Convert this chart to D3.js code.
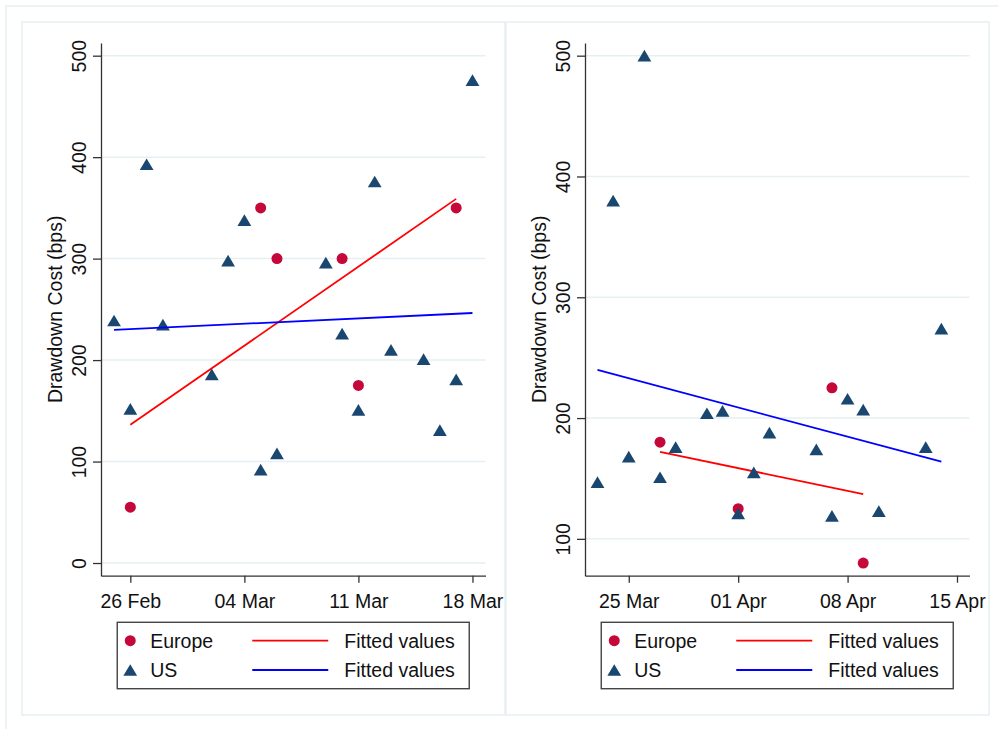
<!DOCTYPE html>
<html>
<head>
<meta charset="utf-8">
<script src="https://cdn.jsdelivr.net/npm/d3@7"></script>
<style>
	body { margin: 0; background: #fff; }
	svg { display: block; font-family: "Liberation Sans", Arial, sans-serif; }
</style>
</head>
<body>
<div id="chart"></div>
<script>
// Left panel: late Feb - mid Mar 2020
var p1EuropeDates = ["2020-02-26", "2020-03-05", "2020-03-06", "2020-03-10", "2020-03-11", "2020-03-17"];
var p1EuropeCost = [55, 350, 300, 300, 175, 350];
var p1UsDates = ["2020-02-25", "2020-02-26", "2020-02-27", "2020-02-28", "2020-03-02", "2020-03-03",
	"2020-03-04", "2020-03-05", "2020-03-06", "2020-03-09", "2020-03-10", "2020-03-11",
	"2020-03-12", "2020-03-13", "2020-03-15", "2020-03-16", "2020-03-17", "2020-03-18"];
var p1UsCost = [239, 152, 393, 235, 186, 298, 338, 92, 108, 296, 226, 151, 376, 210, 201, 131, 181, 476];
var p1XTicks = ["2020-02-26", "2020-03-04", "2020-03-11", "2020-03-18"];
var p1YTicks = [0, 100, 200, 300, 400, 500];

// Right panel: late Mar - mid Apr 2020
var p2EuropeDates = ["2020-03-27", "2020-04-01", "2020-04-07", "2020-04-09"];
var p2EuropeCost = [180, 125, 225, 80];
var p2UsDates = ["2020-03-23", "2020-03-24", "2020-03-25", "2020-03-26", "2020-03-27", "2020-03-28",
	"2020-03-30", "2020-03-31", "2020-04-01", "2020-04-02", "2020-04-03", "2020-04-06",
	"2020-04-07", "2020-04-08", "2020-04-09", "2020-04-10", "2020-04-13", "2020-04-14"];
var p2UsCost = [147, 380, 168, 500, 151, 176, 204, 206, 121, 155, 188, 174, 119, 216, 207, 123, 176, 274];
var p2XTicks = ["2020-03-25", "2020-04-01", "2020-04-08", "2020-04-15"];
var p2YTicks = [100, 200, 300, 400, 500];

var legendLabels = ["Europe", "US", "Fitted values", "Fitted values"];
var yTitle = "Drawdown Cost (bps)";

var EUROPE_COLOR = "#C5073A";
var US_COLOR = "#1A476F";
var EUROPE_FIT = "#FF0000";
var US_FIT = "#0000FF";
var GRID_COLOR = "#E6EFF1";
var DAY = 864e5;
var FONT = 19.5;

var parseDate = d3.utcParse("%Y-%m-%d");

var width = 998;
var height = 729;

var svg = d3.select("#chart").append("svg")
	.attr("width", width)
	.attr("height", height);

// outer graph region (runs off the picture to the right and bottom)
svg.append("rect")
	.attr("x", 6).attr("y", 6)
	.attr("width", 1100).attr("height", 1100)
	.attr("fill", "none")
	.attr("stroke", GRID_COLOR)
	.attr("stroke-width", 1.5);

// triangle marker, centred on its box
function triangle(s) {
	return "M0," + (-s * 0.45) + "L" + (s * 0.53) + "," + (s * 0.45) + "L" + (-s * 0.53) + "," + (s * 0.45) + "Z";
}

// simple least squares fit
function fitLine(xs, ys) {
	var mx = d3.mean(xs), my = d3.mean(ys);
	var sxy = 0, sxx = 0;
	xs.forEach(function(x, i) {
		sxy += (x - mx) * (ys[i] - my);
		sxx += (x - mx) * (x - mx);
	});
	var slope = sxy / sxx;
	return function(x) { return my + slope * (x - mx); };
}

function drawPanel(panelX, eDates, eCost, uDates, uCost, xTicks, yTicks) {
	var panelW = 483;
	var margin = { left: 79, right: 19.5, top: 43, bottom: 575.7 };

	var g = svg.append("g");

	g.append("rect")
		.attr("x", panelX).attr("y", 22)
		.attr("width", panelW).attr("height", 693)
		.attr("fill", "#fff")
		.attr("stroke", GRID_COLOR)
		.attr("stroke-width", 1.5);

	var europe = eDates.map(function(d, i) { return { time: parseDate(d), value: eCost[i] }; });
	var us = uDates.map(function(d, i) { return { time: parseDate(d), value: uCost[i] }; });
	var tickDates = xTicks.map(parseDate);

	// ranges padded like stata does
	var allTimes = europe.concat(us).map(function(d) { return d.time; }).concat(tickDates);
	var tMin = d3.min(allTimes), tMax = d3.max(allTimes);
	var allValues = europe.concat(us).map(function(d) { return d.value; }).concat(yTicks);
	var vMin = d3.min(allValues), vMax = d3.max(allValues);
	var vPad = (vMax - vMin) * 0.025;

	var x0 = panelX + margin.left;
	var x1 = panelX + panelW - margin.right;

	var scaleTime = d3.scaleUtc()
		.domain([new Date(+tMin - 0.8 * DAY), new Date(+tMax + 0.8 * DAY)])
		.range([x0, x1]);
	var scaleValue = d3.scaleLinear()
		.domain([vMin - vPad, vMax + vPad])
		.range([margin.bottom, margin.top]);

	// gridlines
	g.append("g")
		.selectAll("line")
		.data(yTicks)
		.join("line")
		.attr("x1", x0).attr("x2", x1)
		.attr("y1", function(d) { return scaleValue(d); })
		.attr("y2", function(d) { return scaleValue(d); })
		.attr("stroke", GRID_COLOR)
		.attr("stroke-width", 1.5);

	// y axis
	var yAxis = g.append("g")
		.attr("transform", "translate(" + x0 + ",0)")
		.call(d3.axisLeft(scaleValue).tickValues(yTicks).tickSize(8).tickSizeOuter(0));
	yAxis.select(".domain").attr("stroke", "#333").attr("stroke-width", 1.3);
	yAxis.selectAll(".tick line").attr("stroke", "#333").attr("stroke-width", 1.3);
	yAxis.selectAll(".tick text")
		.attr("x", 0).attr("y", -15).attr("dy", 0)
		.attr("transform", "rotate(-90)")
		.attr("text-anchor", "middle")
		.attr("fill", "#111")
		.style("font-size", FONT + "px")
		.style("font-family", "Liberation Sans, Arial, sans-serif");

	// x axis
	var xAxis = g.append("g")
		.attr("transform", "translate(0," + margin.bottom + ")")
		.call(d3.axisBottom(scaleTime).tickValues(tickDates).tickSize(7).tickSizeOuter(0)
			.tickFormat(d3.utcFormat("%d %b")));
	xAxis.select(".domain").attr("stroke", "#333").attr("stroke-width", 1.3);
	xAxis.selectAll(".tick line").attr("stroke", "#333").attr("stroke-width", 1.3);
	xAxis.selectAll(".tick text")
		.attr("y", 32).attr("dy", 0)
		.attr("fill", "#111")
		.style("font-size", FONT + "px")
		.style("font-family", "Liberation Sans, Arial, sans-serif");

	// y axis title
	g.append("text")
		.attr("transform", "translate(" + (x0 - 39.5) + "," + ((margin.top + margin.bottom) / 2) + ") rotate(-90)")
		.attr("text-anchor", "middle")
		.attr("fill", "#111")
		.style("font-size", FONT + "px")
		.text(yTitle);

	// fitted values
	function fitted(data) {
		var f = fitLine(data.map(function(d) { return d.time / DAY; }), data.map(function(d) { return d.value; }));
		var ext = d3.extent(data, function(d) { return d.time; });
		return ext.map(function(t) { return { time: t, value: f(t / DAY) }; });
	}
	var line = d3.line()
		.x(function(d) { return scaleTime(d.time); })
		.y(function(d) { return scaleValue(d.value); });

	g.append("g")
		.selectAll("circle")
		.data(europe)
		.join("circle")
		.attr("cx", function(d) { return scaleTime(d.time); })
		.attr("cy", function(d) { return scaleValue(d.value); })
		.attr("r", 5.5)
		.attr("fill", EUROPE_COLOR);

	g.append("path")
		.datum(fitted(europe))
		.attr("d", line)
		.attr("fill", "none")
		.attr("stroke", EUROPE_FIT)
		.attr("stroke-width", 1.8);

	g.append("g")
		.selectAll("path")
		.data(us)
		.join("path")
		.attr("transform", function(d) { return "translate(" + scaleTime(d.time) + "," + scaleValue(d.value) + ")"; })
		.attr("d", triangle(13))
		.attr("fill", US_COLOR);

	g.append("path")
		.datum(fitted(us))
		.attr("d", line)
		.attr("fill", "none")
		.attr("stroke", US_FIT)
		.attr("stroke-width", 1.8);

	// legend box
	var lw = 352, lh = 66.4;
	var lx = (x0 + x1) / 2 - lw / 2;
	var ly = 622.3;
	var legend = g.append("g").attr("transform", "translate(" + lx + "," + ly + ")");
	legend.append("rect")
		.attr("width", lw).attr("height", lh)
		.attr("fill", "#fff")
		.attr("stroke", "#444")
		.attr("stroke-width", 1.4);

	var row1 = 18.4, row2 = 47.7;
	legend.append("circle").attr("cx", 13).attr("cy", row1).attr("r", 5.5).attr("fill", EUROPE_COLOR);
	legend.append("path").attr("transform", "translate(13," + row2 + ")").attr("d", triangle(13)).attr("fill", US_COLOR);
	legend.append("line").attr("x1", 135).attr("x2", 211).attr("y1", row1).attr("y2", row1)
		.attr("stroke", EUROPE_FIT).attr("stroke-width", 1.8);
	legend.append("line").attr("x1", 135).attr("x2", 211).attr("y1", row2).attr("y2", row2)
		.attr("stroke", US_FIT).attr("stroke-width", 1.8);

	var items = [[33, row1, legendLabels[0]], [33, row2, legendLabels[1]], [227, row1, legendLabels[2]], [227, row2, legendLabels[3]]];
	items.forEach(function(it) {
		legend.append("text")
			.attr("x", it[0]).attr("y", it[1])
			.attr("dy", "0.35em")
			.attr("fill", "#111")
			.style("font-size", FONT + "px")
			.text(it[2]);
	});
}

drawPanel(22, p1EuropeDates, p1EuropeCost, p1UsDates, p1UsCost, p1XTicks, p1YTicks);
drawPanel(506, p2EuropeDates, p2EuropeCost, p2UsDates, p2UsCost, p2XTicks, p2YTicks);
</script>
</body>
</html>
